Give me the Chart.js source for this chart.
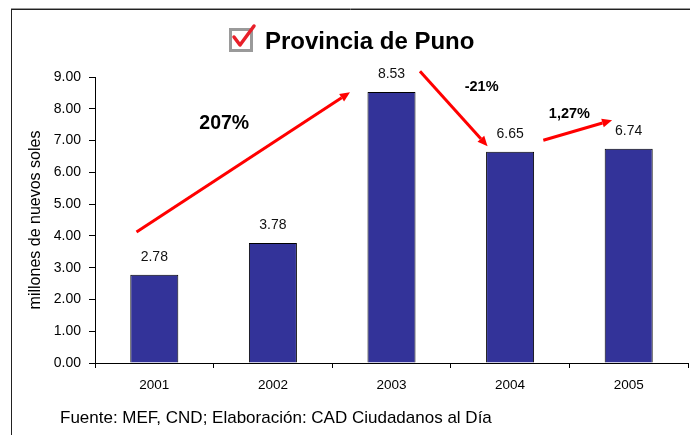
<!DOCTYPE html>
<html>
<head>
<meta charset="utf-8">
<script src="https://cdn.jsdelivr.net/npm/chart.js@4/dist/chart.umd.min.js"></script>
<style>
html,body{margin:0;padding:0;background:#fff;}
#wrap{position:relative;width:690px;height:435px;}
canvas{display:block;}
</style>
</head>
<body>
<div id="wrap"><canvas id="c" width="690" height="435"></canvas></div>
<script>
const categories = ['2001', '2002', '2003', '2004', '2005'];
const values = [2.78, 3.78, 8.53, 6.65, 6.74];
const yTickValues = [0, 1, 2, 3, 4, 5, 6, 7, 8, 9];
const titleText = 'Provincia de Puno';
const yAxisTitle = 'millones de nuevos soles';
const footerText = 'Fuente: MEF, CND; Elaboración: CAD Ciudadanos al Día';
// annotation arrows in data coordinates: [categoryIndex, value]
const arrowLabels = ['207%', '-21%', '1,27%'];
const arrowFrom = [[-0.15, 4.12], [2.24, 9.18], [3.28, 7.01]];
const arrowTo = [[1.65, 8.52], [2.81, 6.82], [3.86, 7.64]];
const arrowLabelPos = [[0.59, 7.52], [2.76, 8.68], [3.5, 7.83]];
const arrowLabelSize = [19.5, 14.5, 14.5];

const FONT = '"Liberation Sans", Arial, sans-serif';

const decorPlugin = {
  id: 'decor',
  beforeDraw(chart) {
    const ctx = chart.ctx;
    ctx.save();
    ctx.fillStyle = '#fff';
    ctx.fillRect(0, 0, chart.width, chart.height);
    // frame
    ctx.strokeStyle = '#999';
    ctx.lineWidth = 1;
    ctx.beginPath(); ctx.moveTo(11, 8.5); ctx.lineTo(690, 8.5); ctx.stroke();
    ctx.strokeStyle = '#222';
    ctx.beginPath(); ctx.moveTo(11, 9.5); ctx.lineTo(690, 9.5); ctx.stroke();
    ctx.beginPath(); ctx.moveTo(11.5, 9); ctx.lineTo(11.5, 435); ctx.stroke();
    // title
    ctx.fillStyle = '#000';
    ctx.font = 'bold 24px ' + FONT;
    ctx.textAlign = 'left';
    ctx.textBaseline = 'alphabetic';
    ctx.fillText(titleText, 265, 49);
    // checkbox icon
    ctx.fillStyle = '#fff';
    ctx.fillRect(229, 28, 23, 23);
    ctx.strokeStyle = '#9a9a9a';
    ctx.lineWidth = 3;
    ctx.strokeRect(230.5, 29.5, 21, 21);
    ctx.strokeStyle = '#e8202a';
    ctx.lineWidth = 3.5;
    ctx.lineCap = 'round';
    ctx.lineJoin = 'round';
    ctx.beginPath();
    ctx.moveTo(234, 37); ctx.lineTo(240, 45); ctx.lineTo(254, 26);
    ctx.stroke();
    // footer
    ctx.fillStyle = '#000';
    ctx.font = '17px ' + FONT;
    ctx.textAlign = 'left';
    ctx.textBaseline = 'middle';
    ctx.fillText(footerText, 60, 418);
    ctx.restore();
  },
  afterDatasetsDraw(chart) {
    const ctx = chart.ctx;
    const xs = chart.scales.x, ys = chart.scales.y;
    ctx.save();
    // value labels
    const meta = chart.getDatasetMeta(0);
    ctx.fillStyle = '#111';
    ctx.font = '14px ' + FONT;
    ctx.textAlign = 'center';
    ctx.textBaseline = 'middle';
    meta.data.forEach((bar, i) => {
      ctx.fillText(values[i].toFixed(2), bar.x, bar.y - 18);
    });
    // arrows
    ctx.strokeStyle = '#ff0000';
    ctx.fillStyle = '#ff0000';
    ctx.lineWidth = 3;
    ctx.lineCap = 'butt';
    for (let k = 0; k < arrowFrom.length; k++) {
      const x1 = xs.getPixelForValue(arrowFrom[k][0]);
      const y1 = ys.getPixelForValue(arrowFrom[k][1]);
      const x2 = xs.getPixelForValue(arrowTo[k][0]);
      const y2 = ys.getPixelForValue(arrowTo[k][1]);
      const a = Math.atan2(y2 - y1, x2 - x1);
      const hl = 10, hw = 4.5;
      const bx = x2 - hl * Math.cos(a), by = y2 - hl * Math.sin(a);
      ctx.beginPath(); ctx.moveTo(x1, y1); ctx.lineTo(bx, by); ctx.stroke();
      ctx.beginPath();
      ctx.moveTo(x2, y2);
      ctx.lineTo(bx + hw * Math.sin(a), by - hw * Math.cos(a));
      ctx.lineTo(bx - hw * Math.sin(a), by + hw * Math.cos(a));
      ctx.closePath(); ctx.fill();
    }
    ctx.fillStyle = '#000';
    ctx.textAlign = 'center';
    ctx.textBaseline = 'middle';
    for (let k = 0; k < arrowLabels.length; k++) {
      ctx.font = 'bold ' + arrowLabelSize[k] + 'px ' + FONT;
      ctx.fillText(arrowLabels[k], xs.getPixelForValue(arrowLabelPos[k][0]), ys.getPixelForValue(arrowLabelPos[k][1]));
    }
    ctx.restore();
  }
};

new Chart(document.getElementById('c'), {
  type: 'bar',
  data: {
    labels: categories,
    datasets: [{
      data: values,
      backgroundColor: '#333399',
      borderColor: '#000',
      borderWidth: 1,
      borderSkipped: 'bottom',
      categoryPercentage: 1,
      barPercentage: 0.405
    }]
  },
  options: {
    responsive: false,
    animation: false,
    devicePixelRatio: 1,
    layout: { padding: { top: 77, right: 2, left: 0, bottom: 0 } },
    plugins: { legend: { display: false }, tooltip: { enabled: false }, title: { display: false } },
    scales: {
      x: {
        afterFit(s) { s.height = 72; },
        grid: { display: true, drawOnChartArea: false, drawTicks: true, tickLength: 5, color: '#000', offset: true },
        border: { display: true, color: '#000', width: 1 },
        ticks: { color: '#000', font: { family: FONT, size: 13.5 }, padding: 9, maxRotation: 0 }
      },
      y: {
        min: 0, max: 9,
        afterFit(s) { s.width = 95; },
        afterBuildTicks(s) { s.ticks = yTickValues.map(v => ({ value: v })); },
        grid: { display: true, drawOnChartArea: false, drawTicks: true, tickLength: 6, color: '#000' },
        border: { display: true, color: '#000', width: 1 },
        ticks: { color: '#000', font: { family: FONT, size: 14 }, padding: 8, callback: v => Number(v).toFixed(2) },
        title: { display: true, text: yAxisTitle, color: '#000', font: { family: FONT, size: 16 }, padding: { top: 26, bottom: 0 } }
      }
    }
  },
  plugins: [decorPlugin]
});
</script>
</body>
</html>
